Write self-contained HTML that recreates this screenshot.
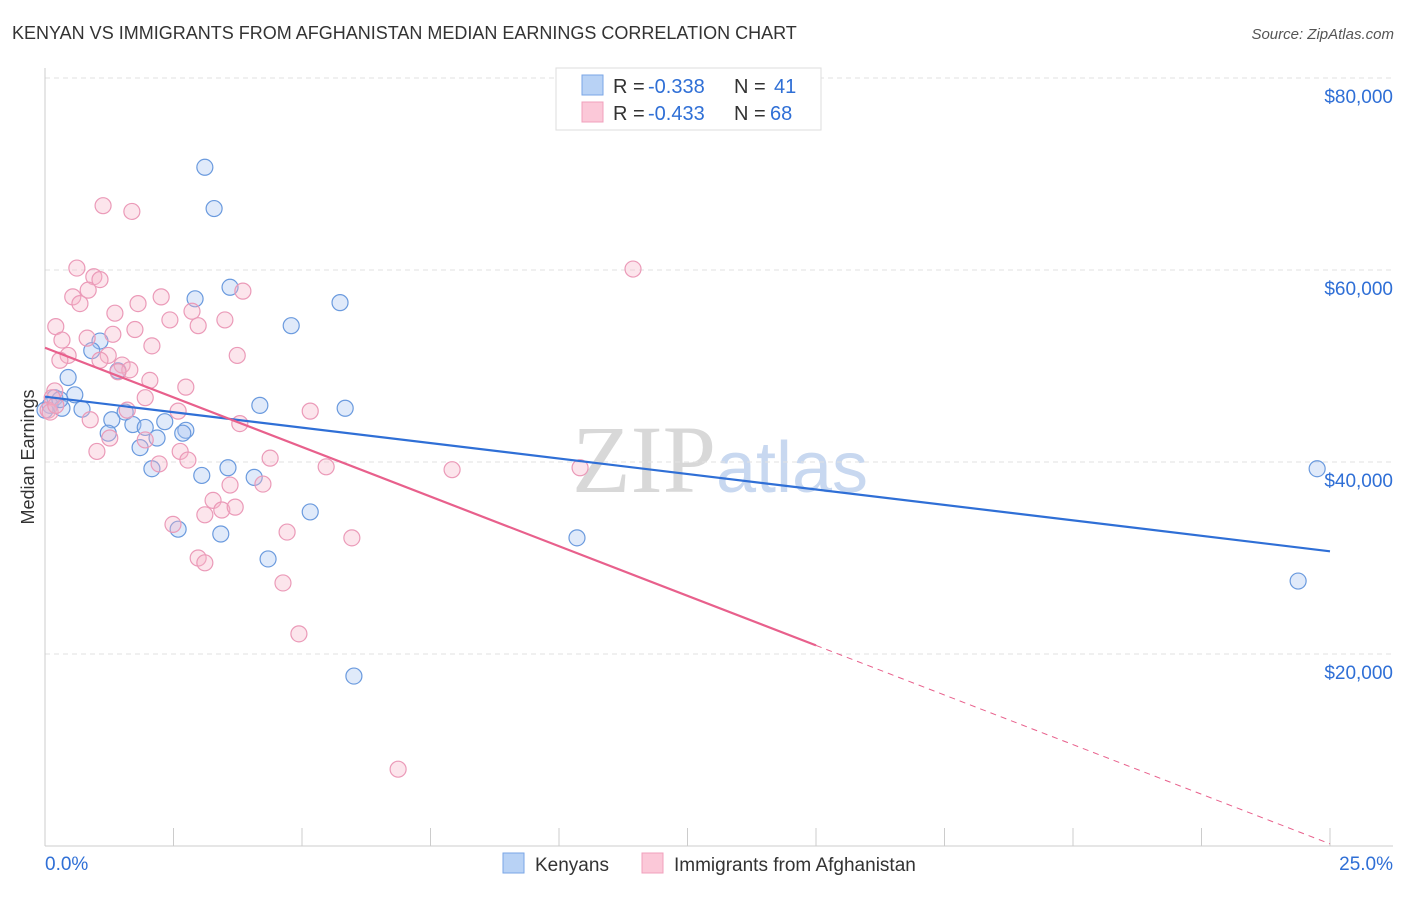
<!DOCTYPE html>
<html><head><meta charset="utf-8"><style>
body{margin:0;background:#fff;font-family:"Liberation Sans",sans-serif;}
</style></head><body>
<svg id="chart" width="1406" height="892" xmlns="http://www.w3.org/2000/svg">
<text x="12" y="39" font-size="18" fill="#333">KENYAN VS IMMIGRANTS FROM AFGHANISTAN MEDIAN EARNINGS CORRELATION CHART</text>
<text x="1394" y="39" font-size="15" fill="#555" text-anchor="end" font-style="italic">Source: ZipAtlas.com</text>
<text x="720" y="492" font-size="96" fill="#d8d8d8" text-anchor="middle" font-family="Liberation Serif">ZIP<tspan fill="#c8d8f0" font-family="Liberation Sans" font-size="72">atlas</tspan></text>
<g id="grid"></g><g id="axes"></g><g id="marks"></g>
<text x="34" y="457" font-size="18" fill="#333" text-anchor="middle" transform="rotate(-90 34 457)">Median Earnings</text>
<g>
<rect x="556" y="68" width="265" height="62" fill="#fff" stroke="#ddd"/>
<rect x="582" y="75" width="21" height="20" fill="#b8d2f5" stroke="#7aa6e6"/>
<rect x="582" y="102" width="21" height="20" fill="#fbc8d8" stroke="#f0a0bc"/>
<text x="613" y="93" font-size="20" fill="#333">R =</text>
<text x="648" y="93" font-size="20" fill="#2f6fd6">-0.338</text>
<text x="734" y="93" font-size="20" fill="#333">N =</text>
<text x="774" y="93" font-size="20" fill="#2f6fd6">41</text>
<text x="613" y="120" font-size="20" fill="#333">R =</text>
<text x="648" y="120" font-size="20" fill="#2f6fd6">-0.433</text>
<text x="734" y="120" font-size="20" fill="#333">N =</text>
<text x="770" y="120" font-size="20" fill="#2f6fd6">68</text>
</g>
<g>
<rect x="503" y="853" width="21" height="20" fill="#b8d2f5" stroke="#7aa6e6"/>
<text x="535" y="871" font-size="19" fill="#333">Kenyans</text>
<rect x="642" y="853" width="21" height="20" fill="#fbc8d8" stroke="#f0a0bc"/>
<text x="674" y="871" font-size="19" fill="#333">Immigrants from Afghanistan</text>
</g>
</svg>
<script>
const yTicks=[20000,40000,60000,80000];
const yTickLabels=["$20,000","$40,000","$60,000","$80,000"];
const xTicks=[0,2.5,5,7.5,10,12.5,15,17.5,20,22.5,25];
const blueX=[3.11,3.29,3.60,2.92,5.74,4.79,1.07,0.91,0.45,1.42,0.58,0.19,0.10,0.33,0.72,4.18,5.84,1.56,1.30,1.71,2.33,2.74,1.95,1.23,2.18,2.68,1.85,2.08,3.05,3.56,4.07,5.16,2.59,3.42,4.34,10.35,6.01,24.75,24.38,0,0.29];
const blueY=[70700,66400,58200,57000,56600,54200,52600,51600,48800,49500,47000,46700,45900,45600,45500,45900,45600,45200,44400,43900,44200,43300,43600,43000,42500,43000,41500,39300,38600,39400,38400,34800,33000,32500,29900,32100,17700,39300,27600,45400,46500];
const pinkX=[1.13,1.69,11.44,0.62,0.95,1.07,0.84,0.54,0.68,2.26,1.81,1.36,2.86,3.50,3.85,0.21,2.43,2.98,1.75,1.32,0.82,0.33,2.08,1.23,0.45,1.07,3.74,1.50,1.65,1.42,2.74,0.19,0.14,1.60,0.06,2.59,3.79,5.16,1.95,1.26,1.01,2.63,2.78,4.38,5.47,2.22,7.92,10.41,3.27,3.60,4.24,3.11,3.44,3.70,2.49,4.71,5.97,2.98,3.11,4.63,4.94,6.87,0.10,0.21,2.04,0.29,0.88,1.95];
const pinkY=[66700,66100,60100,60200,59300,59000,57900,57200,56500,57200,56500,55500,55700,54800,57800,54100,54800,54200,53800,53300,52900,52700,52100,51100,51100,50600,51100,50100,49600,49400,47800,47400,46700,45400,45400,45300,44000,45300,46700,42500,41100,41100,40200,40400,39500,39800,39200,39400,36000,37600,37700,34500,35000,35300,33500,32700,32100,30000,29500,27400,22100,8000,45200,45900,48500,50600,44400,42300];
const blueTrend=[46800,30700];
const pinkTrend=[51900,-2067];
const pinkSolidEnd=15;
const NS="http://www.w3.org/2000/svg";
const X0=45,X1=1330,Y0=846,PXPER=192/20000;
const sx=v=>X0+v/25*(X1-X0);
const sy=v=>Y0-v*PXPER;
function mk(tag,attrs,parent){const e=document.createElementNS(NS,tag);for(const k in attrs)e.setAttribute(k,attrs[k]);parent.appendChild(e);return e;}
const grid=document.getElementById('grid'),axes=document.getElementById('axes'),marks=document.getElementById('marks');
yTicks.forEach((t,i)=>{
 const l=mk('line',{x1:45,x2:1393,y1:sy(t),y2:sy(t),stroke:'#e2e2e2','stroke-dasharray':'5,4'},grid);
 
 
 const tx=mk('text',{x:1393,y:sy(t)+25,'font-size':19,fill:'#2f6fd6','text-anchor':'end'},axes);
 tx.textContent=yTickLabels[i];
 
 
});
const topLine=mk('line',{x1:45,x2:1393,y1:78,y2:78,stroke:'#e2e2e2','stroke-dasharray':'5,4'},grid);


const ya=mk('line',{x1:45,x2:45,y1:68,y2:846,stroke:'#ccc'},axes);


const xa=mk('line',{x1:45,x2:1393,y1:846,y2:846,stroke:'#ccc'},axes);


xTicks.forEach(t=>{const l=mk('line',{x1:sx(t),x2:sx(t),y1:828,y2:846,stroke:'#ccc'},axes);
 
 });
const xl0=mk('text',{x:45,y:870,'font-size':19,fill:'#2f6fd6'},axes);xl0.textContent='0.0%';


const xl1=mk('text',{x:1393,y:870,'font-size':19,fill:'#2f6fd6','text-anchor':'end'},axes);xl1.textContent='25.0%';


blueX.forEach((x,i)=>{const c=mk('circle',{cx:sx(x),cy:sy(blueY[i]),r:8,fill:'rgba(165,195,240,0.35)',stroke:'#6a9ade','stroke-width':1.2},marks);
 
 });
pinkX.forEach((x,i)=>{const c=mk('circle',{cx:sx(x),cy:sy(pinkY[i]),r:8,fill:'rgba(245,180,200,0.35)',stroke:'#eb9ab8','stroke-width':1.2},marks);
 
 });
const bl=mk('line',{x1:sx(0),y1:sy(blueTrend[0]),x2:sx(25),y2:sy(blueTrend[1]),stroke:'#2f6fd6','stroke-width':2.2},marks);


const pf=x=>pinkTrend[0]+pinkTrend[1]*x;
const pl=mk('line',{x1:sx(0),y1:sy(pf(0)),x2:sx(pinkSolidEnd),y2:sy(pf(pinkSolidEnd)),stroke:'#e8608c','stroke-width':2.2},marks);


const pd=mk('line',{x1:sx(pinkSolidEnd),y1:sy(pf(pinkSolidEnd)),x2:sx(25),y2:sy(pf(25)),stroke:'#e8608c','stroke-width':1,'stroke-dasharray':'6,5'},marks);


</script>
</body></html>
